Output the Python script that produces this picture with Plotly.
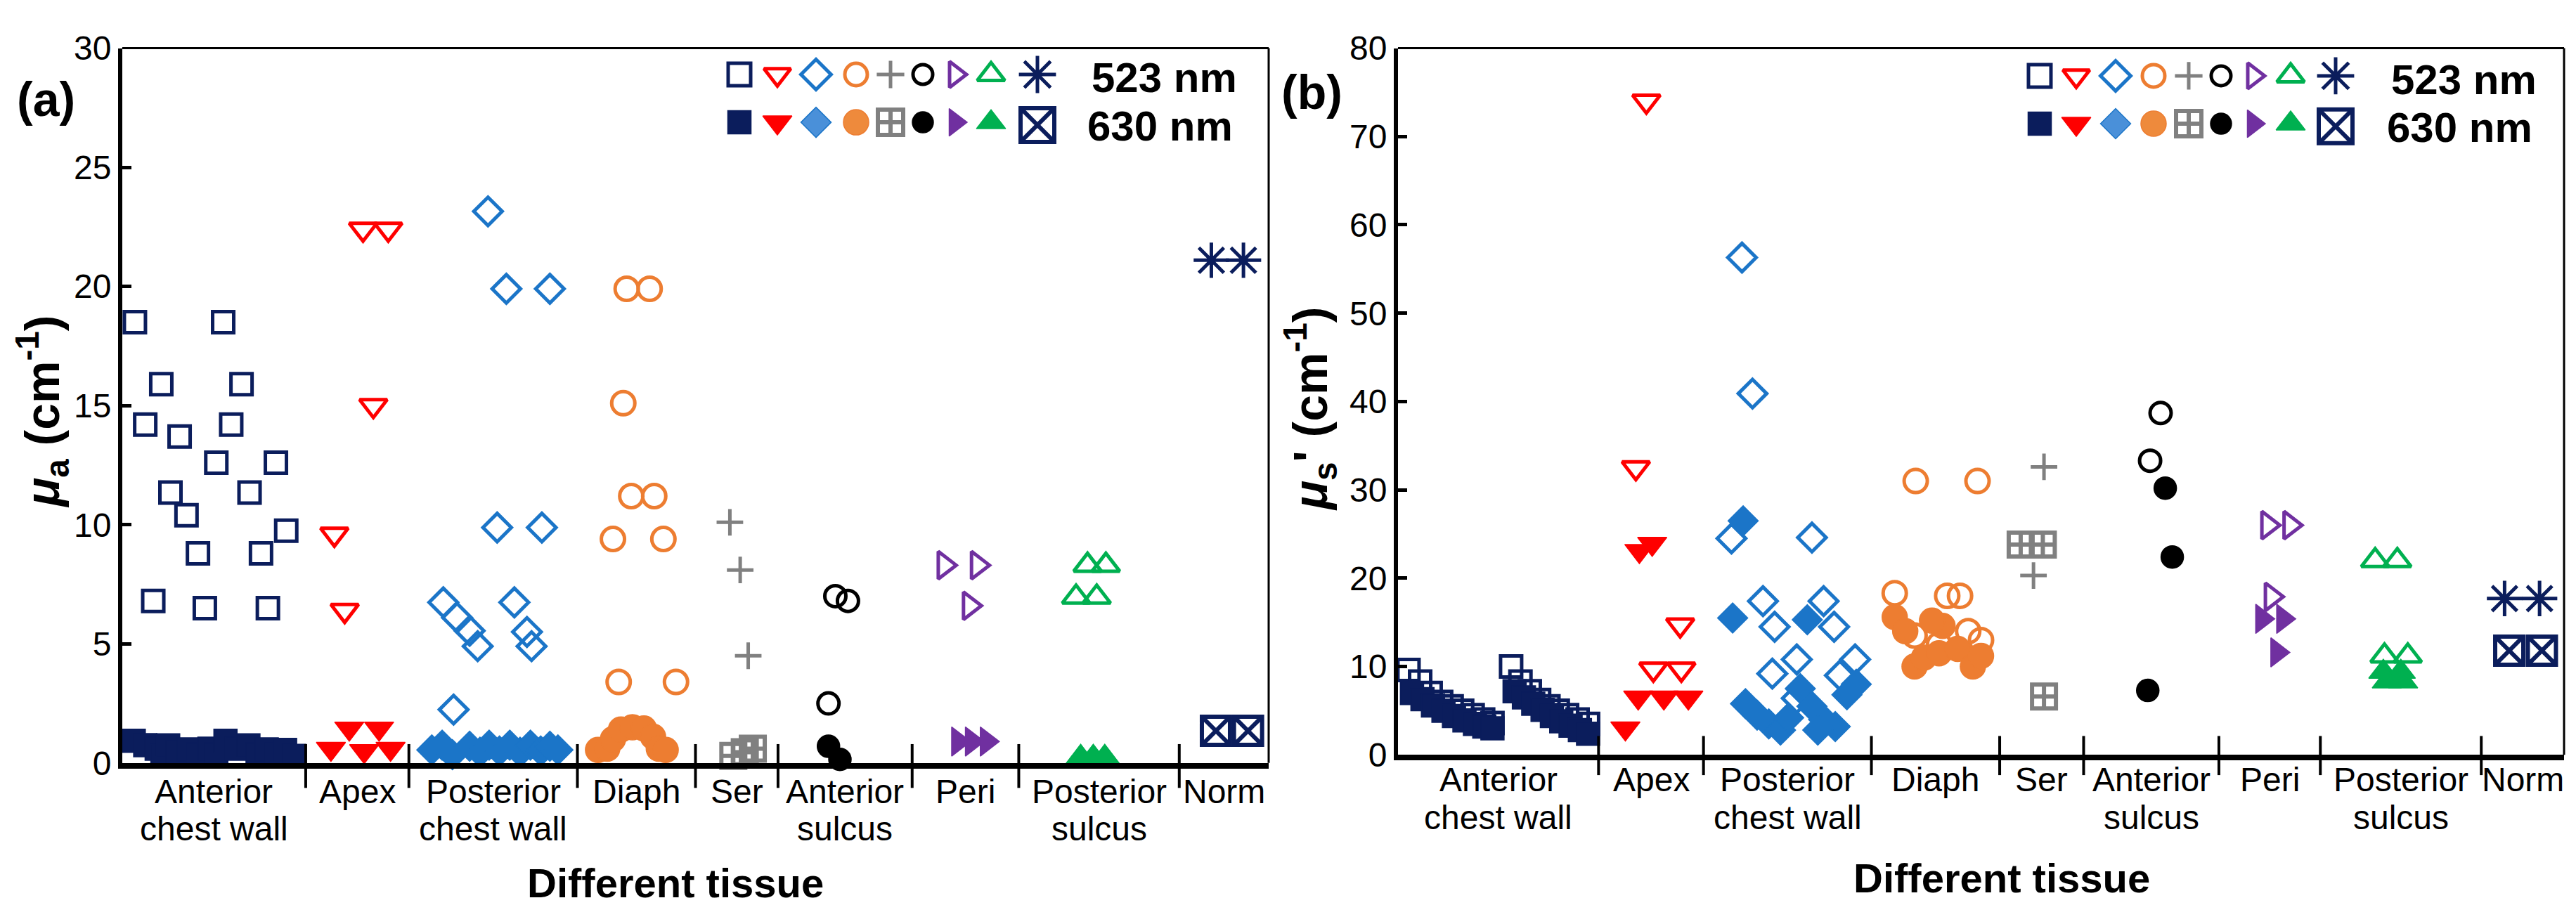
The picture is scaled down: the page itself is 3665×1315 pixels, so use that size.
import plotly.graph_objects as go

W, H = 3665, 1315
FONT = "Liberation Sans, Arial, Helvetica, sans-serif"

NAVY = "#0B1D5C"
RED = "#FF0000"
BLUE = "#1B75C8"
ORANGE = "#ED7D31"
GRAY = "#808080"
BLACK = "#000000"
PURPLE = "#7030A0"
GREEN = "#00B050"

# ---------------- categories ----------------
CAT_LINE1 = ["Anterior", "Apex", "Posterior", "Diaph", "Ser", "Anterior", "Peri", "Posterior", "Norm"]
CAT_LINE2 = ["chest wall", "", "chest wall", "", "", "sulcus", "", "sulcus", ""]
# category boundaries on a 0-100 horizontal scale
A_BOUNDS = [0, 16.0, 25.0, 39.7, 50.0, 57.2, 68.9, 78.2, 92.2, 100]
B_BOUNDS = [0, 17.2, 26.2, 40.6, 51.6, 58.8, 70.4, 79.1, 92.9, 100]
A_YTICKS = [0, 5, 10, 15, 20, 25, 30]
B_YTICKS = [0, 10, 20, 30, 40, 50, 60, 70, 80]
WAVELENGTHS = ["523 nm", "630 nm"]

# ---------------- panel (a): mu_a ----------------
A_ACW_523_X = [1.1, 8.8, 3.4, 10.4, 2.0, 9.5, 5.0, 8.2, 13.4, 4.2, 11.1, 5.6, 14.3, 6.6, 12.1, 2.7, 7.2, 12.7]
A_ACW_523_Y = [18.5, 18.5, 15.9, 15.9, 14.2, 14.2, 13.7, 12.6, 12.6, 11.35, 11.35, 10.4, 9.75, 8.8, 8.8, 6.8, 6.5, 6.5]
A_ACW_630_X = [1.0, 2.0, 3.0, 3.5, 4.0, 4.8, 5.8, 6.6, 7.6, 8.2, 9.0, 10.0, 11.0, 11.8, 12.6, 13.4, 14.2, 15.0]
A_ACW_630_Y = [0.93, 0.75, 0.6, 0.3, 0.74, 0.45, 0.57, 0.35, 0.6, 0.35, 0.93, 0.6, 0.74, 0.35, 0.57, 0.4, 0.55, 0.3]

A_APEX_523_X = [21.0, 23.2, 21.9, 18.5, 19.4]
A_APEX_523_Y = [22.4, 22.4, 15.0, 9.6, 6.4]
A_APEX_630_X = [19.8, 22.4, 18.2, 21.1, 23.4]
A_APEX_630_Y = [1.45, 1.45, 0.6, 0.5, 0.6]

A_PCW_523_X = [31.9, 33.5, 37.3, 32.7, 36.6, 28.0, 34.2, 29.2, 30.3, 35.3, 31.0, 35.7, 28.9]
A_PCW_523_Y = [23.15, 19.9, 19.9, 9.88, 9.88, 6.74, 6.74, 6.1, 5.55, 5.5, 4.9, 4.9, 2.24]
A_PCW_630_X = [27.0, 27.9, 28.8, 30.3, 31.2, 32.0, 32.9, 33.8, 34.7, 35.6, 36.5, 37.3, 38.0]
A_PCW_630_Y = [0.55, 0.75, 0.35, 0.7, 0.45, 0.75, 0.5, 0.75, 0.45, 0.75, 0.5, 0.7, 0.55]

A_DIAPH_523_X = [44.0, 46.0, 43.7, 44.4, 46.4, 42.8, 47.2, 43.3, 48.3]
A_DIAPH_523_Y = [19.9, 19.9, 15.1, 11.2, 11.2, 9.4, 9.4, 3.4, 3.4]
A_DIAPH_630_X = [41.5, 42.3, 42.8, 43.5, 44.5, 45.5, 46.3, 46.8, 47.4]
A_DIAPH_630_Y = [0.55, 0.6, 1.0, 1.4, 1.5, 1.45, 1.1, 0.6, 0.55]

A_SER_523_X = [53.0, 53.9, 54.6]
A_SER_523_Y = [10.1, 8.1, 4.5]
A_SER_630_X = [53.3, 54.3, 55.0]
A_SER_630_Y = [0.3, 0.45, 0.6]

A_AS_523_X = [62.2, 63.3, 61.6]
A_AS_523_Y = [7.0, 6.8, 2.5]
A_AS_630_X = [61.6, 62.6]
A_AS_630_Y = [0.7, 0.15]

A_PERI_523_X = [71.7, 74.6, 73.9]
A_PERI_523_Y = [8.3, 8.3, 6.6]
A_PERI_630_X = [72.9, 74.1, 75.4]
A_PERI_630_Y = [0.9, 0.9, 0.9]

A_PS_523_X = [84.2, 85.8, 83.2, 85.0]
A_PS_523_Y = [8.3, 8.3, 6.96, 6.96]
A_PS_630_X = [83.6, 84.7, 85.7]
A_PS_630_Y = [0.25, 0.25, 0.25]

A_NORM_523_X = [95.0, 97.8]
A_NORM_523_Y = [21.1, 21.1]
A_NORM_630_X = [95.4, 98.2]
A_NORM_630_Y = [1.35, 1.35]

# ---------------- panel (b): mu_s' ----------------
B_ACW_523_X = [0.9, 1.9, 2.8, 3.7, 4.6, 5.5, 6.4, 7.3, 8.1, 9.7, 10.5, 11.3, 12.1, 12.9, 13.7, 14.5, 15.4, 16.3]
B_ACW_523_Y = [9.6, 8.3, 7.0, 6.0, 5.5, 5.0, 4.5, 4.0, 3.6, 10.0, 8.3, 7.2, 6.2, 5.5, 5.0, 4.5, 4.0, 3.5]
B_ACW_630_X = [1.2, 2.1, 3.0, 3.9, 4.8, 5.7, 6.6, 7.4, 8.1, 10.0, 10.8, 11.6, 12.4, 13.2, 14.0, 14.8, 15.6, 16.3]
B_ACW_630_Y = [7.0, 6.3, 5.6, 5.0, 4.4, 3.9, 3.5, 3.2, 3.0, 7.2, 6.5, 5.8, 5.1, 4.4, 3.8, 3.3, 2.8, 2.4]

B_APEX_523_X = [21.3, 20.4, 24.2, 21.9, 24.3]
B_APEX_523_Y = [74.0, 32.5, 14.7, 9.7, 9.7]
B_APEX_630_X = [20.7, 21.8, 20.6, 22.8, 24.9, 19.5]
B_APEX_630_Y = [23.1, 23.9, 6.5, 6.5, 6.5, 3.0]

B_PCW_523_X = [29.5, 30.4, 28.6, 35.5, 31.3, 36.5, 32.3, 37.4, 34.2, 39.2, 32.1, 37.9, 34.2]
B_PCW_523_Y = [56.3, 40.9, 24.5, 24.6, 17.4, 17.4, 14.5, 14.5, 10.8, 10.8, 9.2, 9.0, 6.4]
B_PCW_630_X = [29.6, 28.7, 35.1, 29.8, 30.8, 31.8, 32.8, 33.5, 34.5, 35.5, 36.5, 37.5, 38.5, 39.3, 36.0]
B_PCW_630_Y = [26.5, 15.5, 15.3, 5.8, 4.5, 3.5, 2.8, 4.2, 7.5, 5.5, 4.0, 3.2, 6.8, 8.0, 2.8]

B_DIAPH_523_X = [44.4, 49.7, 42.6, 47.1, 48.2, 44.3, 48.9, 46.4, 50.0]
B_DIAPH_523_Y = [31.0, 31.0, 18.3, 18.0, 18.0, 13.5, 14.0, 12.5, 13.0]
B_DIAPH_630_X = [42.6, 43.5, 46.7, 45.8, 44.3, 45.1, 46.4, 48.0, 49.3, 50.0]
B_DIAPH_630_Y = [15.6, 14.0, 14.6, 15.2, 10.0, 11.0, 11.5, 12.0, 10.0, 11.2]

B_SER_523_X = [55.4, 54.5]
B_SER_523_Y = [32.6, 20.3]
B_SER_630_X = [53.4, 55.3, 55.4]
B_SER_630_Y = [23.8, 23.8, 6.6]

B_AS_523_X = [65.4, 64.5]
B_AS_523_Y = [38.7, 33.3]
B_AS_630_X = [65.8, 66.4, 64.3]
B_AS_630_Y = [30.2, 22.4, 7.3]

B_PERI_523_X = [74.6, 76.5, 74.9]
B_PERI_523_Y = [26.0, 26.0, 17.9]
B_PERI_630_X = [74.1, 75.9, 75.4]
B_PERI_630_Y = [15.4, 15.4, 11.6]

B_PS_523_X = [83.8, 85.7, 84.6, 86.6]
B_PS_523_Y = [22.0, 22.0, 11.2, 11.2]
B_PS_630_X = [84.5, 86.0, 84.8, 86.2]
B_PS_630_Y = [9.4, 9.4, 8.3, 8.3]

B_NORM_523_X = [94.9, 97.9]
B_NORM_523_Y = [17.7, 17.7]
B_NORM_630_X = [95.3, 98.1]
B_NORM_630_Y = [11.8, 11.8]

# ---------------- marker styles per tissue ----------------
# (color, open symbol, size, filled symbol, size, filled-is-line-symbol)
STYLES = [
    (NAVY, "square-open", 30, "square", 33, False),
    (RED, "triangle-down-open", 34, "triangle-down", 36, False),
    (BLUE, "diamond-open", 31, "diamond", 33, False),
    (ORANGE, "circle-open", 33, "circle", 36, False),
    (GRAY, "cross-thin-open", 27, "square-cross-open", 34, True),
    (BLACK, "circle-open", 30, "circle", 32, False),
    (PURPLE, "triangle-right-open", 34, "triangle-right", 36, False),
    (GREEN, "triangle-up-open", 34, "triangle-up", 36, False),
    (NAVY, "asterisk-open", 42, "square-x-open", 40, True),
]

A_SERIES = [
    (A_ACW_523_X, A_ACW_523_Y, A_ACW_630_X, A_ACW_630_Y),
    (A_APEX_523_X, A_APEX_523_Y, A_APEX_630_X, A_APEX_630_Y),
    (A_PCW_523_X, A_PCW_523_Y, A_PCW_630_X, A_PCW_630_Y),
    (A_DIAPH_523_X, A_DIAPH_523_Y, A_DIAPH_630_X, A_DIAPH_630_Y),
    (A_SER_523_X, A_SER_523_Y, A_SER_630_X, A_SER_630_Y),
    (A_AS_523_X, A_AS_523_Y, A_AS_630_X, A_AS_630_Y),
    (A_PERI_523_X, A_PERI_523_Y, A_PERI_630_X, A_PERI_630_Y),
    (A_PS_523_X, A_PS_523_Y, A_PS_630_X, A_PS_630_Y),
    (A_NORM_523_X, A_NORM_523_Y, A_NORM_630_X, A_NORM_630_Y),
]
B_SERIES = [
    (B_ACW_523_X, B_ACW_523_Y, B_ACW_630_X, B_ACW_630_Y),
    (B_APEX_523_X, B_APEX_523_Y, B_APEX_630_X, B_APEX_630_Y),
    (B_PCW_523_X, B_PCW_523_Y, B_PCW_630_X, B_PCW_630_Y),
    (B_DIAPH_523_X, B_DIAPH_523_Y, B_DIAPH_630_X, B_DIAPH_630_Y),
    (B_SER_523_X, B_SER_523_Y, B_SER_630_X, B_SER_630_Y),
    (B_AS_523_X, B_AS_523_Y, B_AS_630_X, B_AS_630_Y),
    (B_PERI_523_X, B_PERI_523_Y, B_PERI_630_X, B_PERI_630_Y),
    (B_PS_523_X, B_PS_523_Y, B_PS_630_X, B_PS_630_Y),
    (B_NORM_523_X, B_NORM_523_Y, B_NORM_630_X, B_NORM_630_Y),
]


def open_marker(style, size=None):
    color, sym, sz, _, _, _ = style
    return dict(symbol=sym, size=size or sz, color=color, line=dict(color=color, width=5))


def filled_marker(style, size=None, fill=None):
    color, _, _, sym, sz, is_line = style
    if is_line:
        return dict(symbol=sym, size=size or sz, color=color, line=dict(color=color, width=6))
    return dict(symbol=sym, size=size or sz, color=fill or color, line=dict(color=color, width=1.5))


fig = go.Figure()

for series, xa, ya in ((A_SERIES, "x", "y"), (B_SERIES, "x2", "y2")):
    for style, (x5, y5, x6, y6) in zip(STYLES, series):
        fig.add_trace(go.Scatter(x=x5, y=y5, mode="markers", xaxis=xa, yaxis=ya,
                                 marker=open_marker(style), cliponaxis=False,
                                 showlegend=False, hoverinfo="skip"))
    for style, (x5, y5, x6, y6) in zip(STYLES, series):
        fig.add_trace(go.Scatter(x=x6, y=y6, mode="markers", xaxis=xa, yaxis=ya,
                                 marker=filled_marker(style), cliponaxis=False,
                                 showlegend=False, hoverinfo="skip"))

# ---------------- custom legend (overlay pixel-space axes) ----------------
LEG_A_X = [1044, 1098, 1153, 1210, 1259, 1305, 1351, 1402, 1468]
LEG_B_X = [2894, 2946, 3002, 3056, 3106, 3152, 3198, 3251, 3315]
LEG_SIZES_O = [32, 33, 33, 32, 28, 28, 32, 34, 44]
LEG_SIZES_F = [33, 36, 33, 36, 36, 30, 34, 36, 48]
LEG_FILLS = [None, None, "#4A90D9", "#EE8A3C", None, None, None, None, None]
for lx, row1y, row2y, tx, t1y, t2y in ((LEG_A_X, 75, 146, (1543, 1537), 80, 152),
                                      (LEG_B_X, 77, 148, (3392, 3386), 83, 154)):
    for i, style in enumerate(STYLES):
        fig.add_trace(go.Scatter(x=[lx[i]], y=[row1y], mode="markers", xaxis="x3", yaxis="y3",
                                 marker=open_marker(style, LEG_SIZES_O[i]), cliponaxis=False,
                                 showlegend=False, hoverinfo="skip"))
        ry = row2y + (4 if i == 8 else 0)
        fig.add_trace(go.Scatter(x=[lx[i]], y=[ry], mode="markers", xaxis="x3", yaxis="y3",
                                 marker=filled_marker(style, LEG_SIZES_F[i], LEG_FILLS[i]), cliponaxis=False,
                                 showlegend=False, hoverinfo="skip"))
    for j, (xx, yy) in enumerate(((tx[0], t1y), (tx[1], t2y))):
        fig.add_annotation(x=xx / W, y=1 - yy / H, xref="paper", yref="paper",
                           text="<b>%s</b>" % WAVELENGTHS[j], showarrow=False,
                           xanchor="left", yanchor="middle",
                           font=dict(family=FONT, size=60, color="black"))

# ---------------- layout ----------------
A_L, A_R, A_T, A_B = 166, 1797, 36, 1096
B_L, B_R, B_T, B_B = 1981, 3640, 36, 1084


def xdom(l, r):
    return [l / W, r / W]


def ydom(t, b):
    return [1 - b / H, 1 - t / H]


xcommon = dict(range=[0, 100], showgrid=False, zeroline=False, showticklabels=False,
               ticks="", showline=True, linecolor="black", linewidth=8)
ycommon = dict(showgrid=False, zeroline=False, ticks="inside", ticklen=13, tickwidth=5,
               tickcolor="black", showline=True, linecolor="black", linewidth=6,
               ticksuffix=" ",
               tickfont=dict(family=FONT, size=48, color="black"))

fig.update_layout(
    width=W, height=H,
    margin=dict(l=0, r=0, t=0, b=0),
    paper_bgcolor="white", plot_bgcolor="rgba(0,0,0,0)",
    showlegend=False,
    xaxis=dict(domain=xdom(A_L, A_R), anchor="y", **xcommon),
    yaxis=dict(domain=ydom(A_T, A_B), anchor="x", range=[0, 30], tickvals=A_YTICKS, **ycommon),
    xaxis2=dict(domain=xdom(B_L, B_R), anchor="y2", **xcommon),
    yaxis2=dict(domain=ydom(B_T, B_B), anchor="x2", range=[0, 80], tickvals=B_YTICKS, **ycommon),
    xaxis3=dict(domain=[0, 1], anchor="y3", range=[0, W], visible=False),
    yaxis3=dict(domain=[0, 1], anchor="x3", range=[H, 0], visible=False),
)

shapes = []
for xref, yref, bounds, dh, below, above in (("x", "y", A_BOUNDS, A_B - A_T, 37, 28),
                                             ("x2", "y2", B_BOUNDS, B_B - B_T, 30, 28)):
    # thin top and right frame
    shapes.append(dict(type="line", xref=xref + " domain", yref=yref + " domain",
                       x0=0, x1=1, y0=1, y1=1, line=dict(color="black", width=3)))
    shapes.append(dict(type="line", xref=xref + " domain", yref=yref + " domain",
                       x0=1, x1=1, y0=0, y1=1, line=dict(color="black", width=3)))
    for bnd in bounds[1:-1]:
        shapes.append(dict(type="line", xref=xref, yref=yref + " domain",
                           x0=bnd, x1=bnd, y0=-below / dh, y1=above / dh,
                           line=dict(color="black", width=4)))
fig.update_layout(shapes=shapes)

# category labels (two closely spaced lines, as in the original figure)
LABEL_FS = 48
for xref, bounds, axis_px, o1, o2 in (("x", A_BOUNDS, 1095, 43, 99), ("x2", B_BOUNDS, 1083, 38, 94)):
    for i in range(len(CAT_LINE1)):
        cx = (bounds[i] + bounds[i + 1]) / 2
        fig.add_annotation(x=cx, y=1 - (axis_px + o1) / H, xref=xref, yref="paper",
                           text=CAT_LINE1[i], showarrow=False, xanchor="center", yanchor="middle",
                           font=dict(family=FONT, size=LABEL_FS, color="black"))
        if CAT_LINE2[i]:
            fig.add_annotation(x=cx, y=1 - (axis_px + o2) / H, xref=xref, yref="paper",
                               text=CAT_LINE2[i], showarrow=False, xanchor="center", yanchor="middle",
                               font=dict(family=FONT, size=LABEL_FS, color="black"))

# axis titles and panel letters
TEXTS = [
    ("<b>Different tissue</b>", 953, 1274, 0, 58),
    ("<b>Different tissue</b>", 2840, 1267, 0, 58),
    ("<b><i>μ</i><sub>a</sub> (cm<sup>-1</sup>)</b>", 52, 575, -90, 68),
    ("<b><i>μ</i><sub>s</sub>' (cm<sup>-1</sup>)</b>", 1856, 571, -90, 68),
    ("<b>(a)</b>", 57, 112, 0, 68),
    ("<b>(b)</b>", 1858, 101, 0, 68),
]
for txt, px, py, ang, fs in TEXTS:
    fig.add_annotation(x=px / W, y=1 - py / H, xref="paper", yref="paper", text=txt,
                       showarrow=False, xanchor="center", yanchor="middle", textangle=ang,
                       font=dict(family=FONT, size=fs, color="black"))

fig.write_html("out.html")
